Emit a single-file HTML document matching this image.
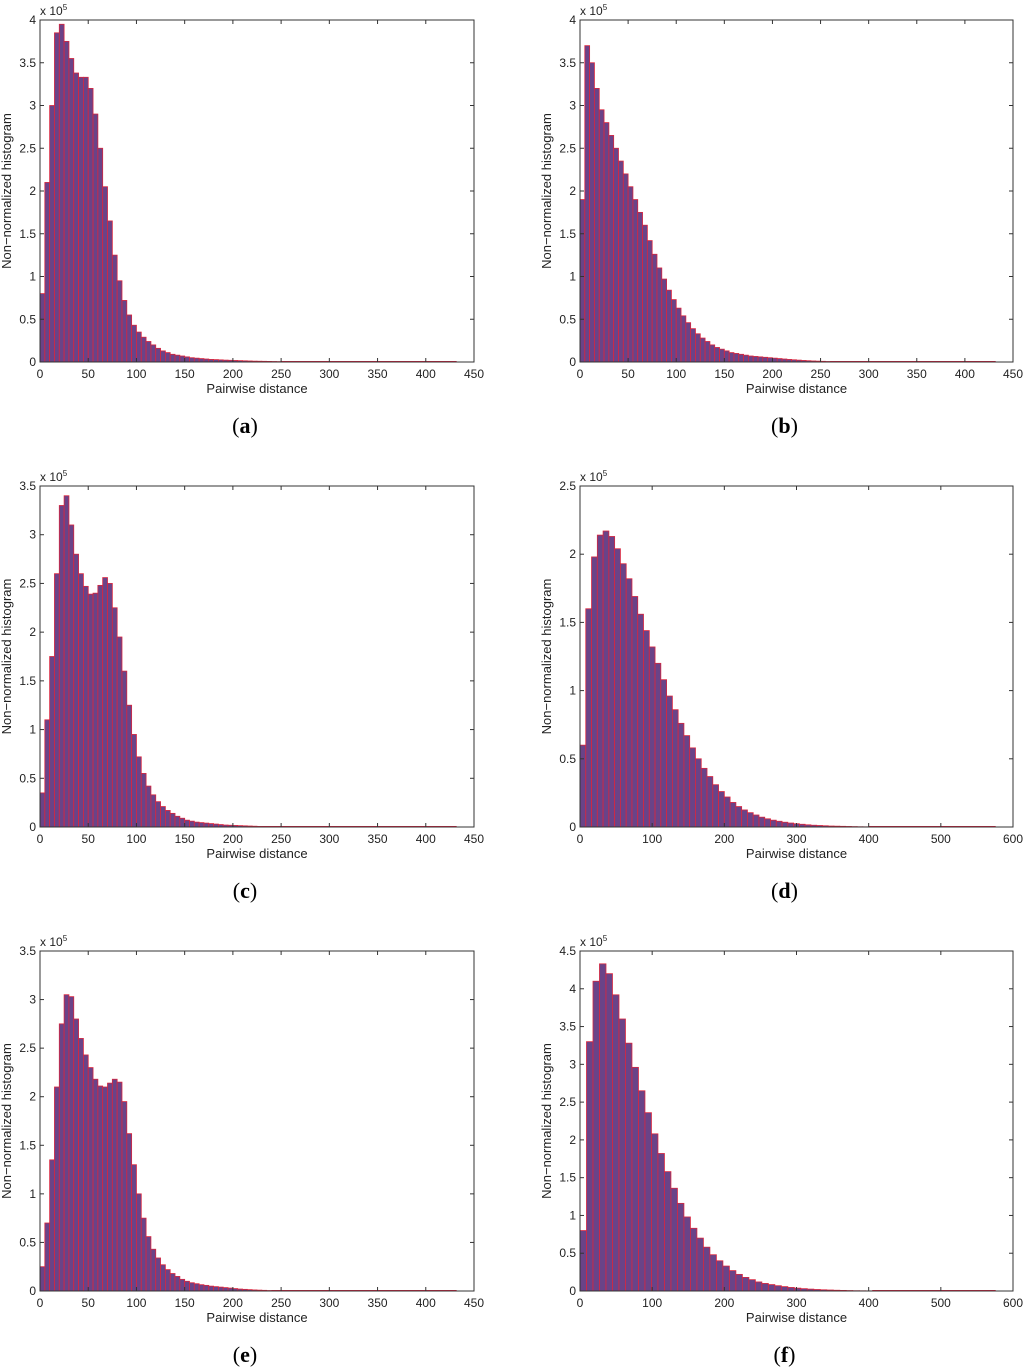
<!DOCTYPE html>
<html><head><meta charset="utf-8">
<style>
body{margin:0;background:#fff;}
svg{display:block;font-family:"Liberation Sans",Arial,sans-serif;}
.tk{font-size:12px;fill:#222;}
.lab{font-size:13px;fill:#222;}
.cap{font-family:"Liberation Serif",serif;font-size:22px;fill:#000;}
</style></head>
<body>
<svg id="fig" width="1024" height="1369" viewBox="0 0 1024 1369"></svg>
<script>
// values in units of 1e5, bins of width binW starting at 0
const valsA=[0.8,2.1,3.0,3.85,3.95,3.75,3.55,3.38,3.33,3.33,3.2,2.9,2.5,2.05,1.65,1.25,0.95,0.72,0.55,0.43,0.35,0.29,0.24,0.2,0.16,0.13,0.11,0.09,0.08,0.07,0.06,0.05,0.045,0.04,0.035,0.03,0.028,0.025,0.022,0.02,0.018,0.016,0.014,0.012,0.01,0.009,0.008,0.007,0.006,0.005];
const valsB=[1.9,3.7,3.5,3.2,2.95,2.8,2.65,2.5,2.35,2.2,2.05,1.9,1.75,1.6,1.42,1.26,1.1,0.97,0.84,0.73,0.63,0.54,0.46,0.39,0.33,0.28,0.24,0.2,0.17,0.15,0.13,0.11,0.1,0.09,0.08,0.07,0.065,0.06,0.055,0.05,0.045,0.04,0.035,0.03,0.026,0.022,0.018,0.015,0.012,0.01,0.008,0.006];
const valsC=[0.35,1.1,1.75,2.6,3.3,3.4,3.1,2.8,2.6,2.47,2.39,2.4,2.48,2.56,2.5,2.25,1.95,1.6,1.25,0.95,0.72,0.55,0.42,0.33,0.26,0.21,0.17,0.14,0.11,0.09,0.07,0.06,0.05,0.045,0.04,0.035,0.03,0.025,0.02,0.018,0.016,0.014,0.012,0.01,0.008,0.006];
const valsD=[0.6,1.6,1.98,2.14,2.17,2.13,2.04,1.93,1.82,1.69,1.56,1.44,1.32,1.2,1.08,0.96,0.86,0.76,0.67,0.58,0.5,0.43,0.37,0.31,0.26,0.22,0.18,0.15,0.125,0.105,0.088,0.072,0.06,0.05,0.042,0.035,0.029,0.024,0.02,0.016,0.013,0.011,0.009,0.007,0.006,0.005,0.004,0.003,0.002,0.0015];
const valsE=[0.25,0.7,1.35,2.1,2.75,3.05,3.03,2.8,2.6,2.43,2.3,2.18,2.11,2.1,2.14,2.18,2.15,1.95,1.62,1.3,1.0,0.75,0.56,0.43,0.34,0.27,0.22,0.18,0.15,0.12,0.1,0.085,0.075,0.065,0.058,0.05,0.045,0.04,0.035,0.03,0.025,0.02,0.017,0.014,0.011,0.009,0.007,0.005];
const valsF=[0.8,3.3,4.1,4.33,4.2,3.92,3.6,3.28,2.96,2.65,2.36,2.08,1.82,1.58,1.36,1.16,0.98,0.83,0.7,0.58,0.48,0.4,0.33,0.27,0.22,0.18,0.15,0.12,0.1,0.085,0.07,0.058,0.047,0.038,0.031,0.025,0.02,0.016,0.013,0.01,0.008,0.006,0.004,0.003,0.002];
const ticksX450=[0,50,100,150,200,250,300,350,400,450];
const ticksX600=[0,100,200,300,400,500,600];
const ticksY4=[0,0.5,1,1.5,2,2.5,3,3.5,4];
const ticksY35=[0,0.5,1,1.5,2,2.5,3,3.5];
const ticksY25=[0,0.5,1,1.5,2,2.5];
const ticksY45=[0,0.5,1,1.5,2,2.5,3,3.5,4,4.5];
const captions=["(a)","(b)","(c)","(d)","(e)","(f)"];

const NS="http://www.w3.org/2000/svg";
const svg=document.getElementById('fig');
function mk(tag,attrs,parent){const e=document.createElementNS(NS,tag);for(const k in attrs)e.setAttribute(k,attrs[k]);parent.appendChild(e);return e;}

const panels=[
 {id:'a',vals:valsA,binW:5,xmax:450,ymax:4,xt:ticksX450,yt:ticksY4,x0:40,x1:474,y0:20,y1:362,cap:captions[0]},
 {id:'b',vals:valsB,binW:5,xmax:450,ymax:4,xt:ticksX450,yt:ticksY4,x0:580,x1:1013,y0:20,y1:362,cap:captions[1]},
 {id:'c',vals:valsC,binW:5,xmax:450,ymax:3.5,xt:ticksX450,yt:ticksY35,x0:40,x1:474,y0:486,y1:827,cap:captions[2]},
 {id:'d',vals:valsD,binW:8,xmax:600,ymax:2.5,xt:ticksX600,yt:ticksY25,x0:580,x1:1013,y0:486,y1:827,cap:captions[3]},
 {id:'e',vals:valsE,binW:5,xmax:450,ymax:3.5,xt:ticksX450,yt:ticksY35,x0:40,x1:474,y0:951,y1:1291,cap:captions[4]},
 {id:'f',vals:valsF,binW:9,xmax:600,ymax:4.5,xt:ticksX600,yt:ticksY45,x0:580,x1:1013,y0:951,y1:1291,cap:captions[5]}
];

panels.forEach(p=>{
  const g=mk('g',{},svg);
  
  
  const sx=v=>p.x0+(v/p.xmax)*(p.x1-p.x0);
  const sy=v=>p.y1-(v/p.ymax)*(p.y1-p.y0);
  p.vals.forEach((v,i)=>{
    const xa=sx(i*p.binW), xb=sx((i+1)*p.binW);
    const r=mk('rect',{x:xa,y:sy(v),width:xb-xa,height:p.y1-sy(v),fill:'#6a4388',stroke:'#d8263f','stroke-width':0.8},g);
    
    
  });
  const tail=mk('line',{x1:sx(p.vals.length*p.binW),y1:p.y1-0.5,x2:sx(p.xmax*0.96),y2:p.y1-0.5,stroke:'#e02040','stroke-width':1},g);
  
  
  const box=mk('rect',{x:p.x0,y:p.y0,width:p.x1-p.x0,height:p.y1-p.y0,fill:'none',stroke:'#333','stroke-width':1},g);
  
  
  p.xt.forEach(t=>{
    const x=sx(t);
    mk('line',{x1:x,y1:p.y1,x2:x,y2:p.y1-4,stroke:'#333'},g);
    mk('line',{x1:x,y1:p.y0,x2:x,y2:p.y0+4,stroke:'#333'},g);
    const tx=mk('text',{x:x,y:p.y1+16,'text-anchor':'middle',class:'tk'},g);
    tx.textContent=t;
    
    
  });
  p.yt.forEach(t=>{
    const y=sy(t);
    mk('line',{x1:p.x0,y1:y,x2:p.x0+4,y2:y,stroke:'#333'},g);
    mk('line',{x1:p.x1,y1:y,x2:p.x1-4,y2:y,stroke:'#333'},g);
    const ty=mk('text',{x:p.x0-4,y:y+4,'text-anchor':'end',class:'tk'},g);
    ty.textContent=t;
    
    
  });
  const ex=mk('text',{x:p.x0,y:p.y0-5,class:'tk'},g);
  ex.innerHTML='x 10<tspan dy="-5" font-size="8">5</tspan>';
  
  
  const xl=mk('text',{x:(p.x0+p.x1)/2,y:p.y1+31,'text-anchor':'middle',class:'lab'},g);
  xl.textContent='Pairwise distance';
  
  
  const ym=(p.y0+p.y1)/2, yx=p.x0-29;
  const yl=mk('text',{x:yx,y:ym,'text-anchor':'middle',class:'lab',transform:'rotate(-90 '+yx+' '+ym+')'},g);
  yl.textContent='Non\u2212normalized histogram';
  
  
  const cp=mk('text',{x:(p.x0+p.x1)/2-12,y:p.y1+71,'text-anchor':'middle',class:'cap'},g);
  cp.innerHTML='(<tspan font-weight="bold">'+p.cap.slice(1,-1)+'</tspan>)';
  
  
});
</script>
</body></html>
